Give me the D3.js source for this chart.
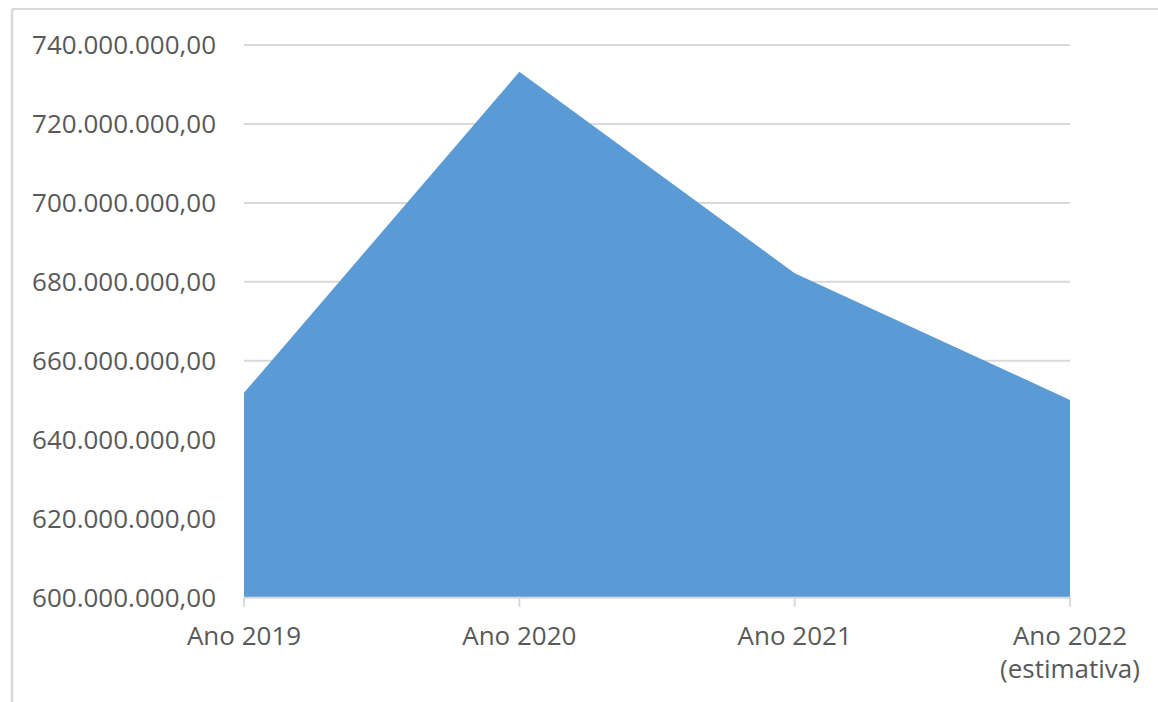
<!DOCTYPE html>
<html>
<head>
<meta charset="utf-8">
<style>
  body { margin: 0; background: #fff; }
  #chart text { font-family: 'Open Sans', sans-serif; fill: #595959; }
</style>
</head>
<body>
<div id="chart"></div>
<script src="https://d3js.org/d3.v7.min.js"></script>
<script>
  // categories and values (R$)
  var anos = ["Ano 2019", "Ano 2020", "Ano 2021", "Ano 2022|(estimativa)"];
  var valores = [651900000, 733200000, 682200000, 650100000];
  var yTicks = [600000000, 620000000, 640000000, 660000000, 680000000, 700000000, 720000000, 740000000];

  var width = 1158, height = 702;
  var grid = "#d9d9d9";

  var br = d3.formatLocale({ decimal: ",", thousands: ".", grouping: [3], currency: ["R$", ""] });
  var fmt = br.format(",.2f");

  var svg = d3.select("#chart").append("svg")
    .attr("width", width).attr("height", height);

  // outer frame (top and left edges visible)
  svg.append("line").attr("x1", 12).attr("x2", width).attr("y1", 9).attr("y2", 9)
    .attr("stroke", grid).attr("stroke-width", 2);
  svg.append("line").attr("x1", 12).attr("x2", 12).attr("y1", 9).attr("y2", height)
    .attr("stroke", grid).attr("stroke-width", 2.5);

  var x = d3.scalePoint().domain(anos).range([244, 1070]);
  var y = d3.scaleLinear().domain([600000000, 740000000]).range([597.7, 45]);

  // gridlines
  svg.append("g").selectAll("line")
    .data(yTicks.slice(1))
    .enter().append("line")
    .attr("x1", 244).attr("x2", 1070)
    .attr("y1", function(d) { return y(d); })
    .attr("y2", function(d) { return y(d); })
    .attr("stroke", grid).attr("stroke-width", 2);

  // area
  var area = d3.area()
    .x(function(d, i) { return x(anos[i]); })
    .y0(y(600000000))
    .y1(function(d) { return y(d); });

  svg.append("path")
    .datum(valores)
    .attr("d", area)
    .attr("fill", "#5b9bd5");

  // x axis line and ticks
  svg.append("line").attr("x1", 244).attr("x2", 1070)
    .attr("y1", y(600000000)).attr("y2", y(600000000))
    .attr("stroke", grid).attr("stroke-width", 2);
  svg.append("g").selectAll("line")
    .data(anos)
    .enter().append("line")
    .attr("x1", function(d) { return x(d); })
    .attr("x2", function(d) { return x(d); })
    .attr("y1", y(600000000)).attr("y2", y(600000000) + 9)
    .attr("stroke", grid).attr("stroke-width", 2);

  // y labels
  svg.append("g").selectAll("text")
    .data(yTicks)
    .enter().append("text")
    .attr("x", 216)
    .attr("y", function(d) { return y(d); })
    .attr("dy", "0.36em")
    .attr("text-anchor", "end")
    .style("font-size", "26px")
    .text(function(d) { return fmt(d); });

  // x labels
  var xl = svg.append("g").selectAll("text")
    .data(anos)
    .enter().append("text")
    .attr("x", function(d) { return x(d); })
    .attr("y", 645)
    .attr("text-anchor", "middle")
    .style("font-size", "26px");
  xl.selectAll("tspan")
    .data(function(d) { return d.split("|"); })
    .enter().append("tspan")
    .attr("x", function() { return x(this.parentNode.__data__); })
    .attr("dy", function(d, i) { return i ? 33 : 0; })
    .text(function(d) { return d; });
</script>
</body>
</html>
